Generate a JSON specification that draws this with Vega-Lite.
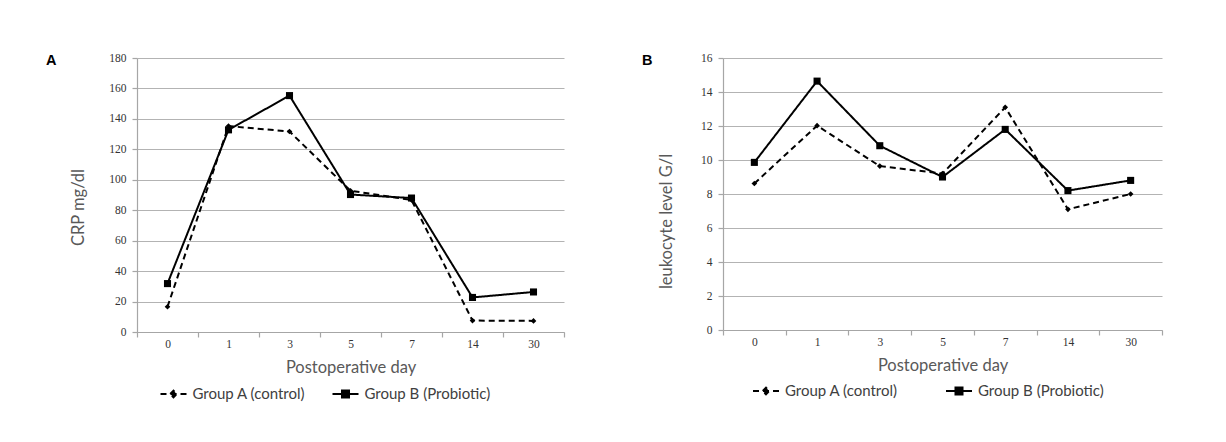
{
  "$schema": "https://vega.github.io/schema/vega-lite/v6.json",
  "background": "white",
  "padding": {"left": 46, "top": 52, "right": 5, "bottom": 5},
  "spacing": 159,
  "bounds": "flush",
  "config": {
    "view": {"stroke": null},
    "axis": {
      "labelFont": "Liberation Serif",
      "labelFontSize": 11.5,
      "labelColor": "#333333",
      "titleFont": "Lato",
      "titleFontSize": 16.5,
      "titleFontWeight": "normal",
      "titleColor": "#595959",
      "domainColor": "#a6a6a6",
      "domainWidth": 1.2,
      "tickColor": "#a6a6a6",
      "tickWidth": 1.2,
      "gridColor": "#b3b3b3",
      "gridWidth": 1.2
    },
    "axisX": {"grid": false, "tickSize": 5, "labelPadding": 1, "titlePadding": 10, "labelAngle": 0, "tickBand": "extent"},
    "axisY": {"tickSize": 5, "labelPadding": 6},
    "title": {"font": "Liberation Sans", "fontSize": 14.5, "fontWeight": "bold", "color": "black", "anchor": "start", "frame": "group", "baseline": "top"},
    "legend": {
      "orient": "none", "direction": "horizontal", "title": null,
      "symbolSize": 676, "symbolStrokeWidth": 2, "symbolStrokeColor": "black", "symbolFillColor": "black",
      "labelFont": "Lato", "labelFontSize": 15, "labelColor": "#404040", "labelOffset": 5, "padding": 0
    }
  },
  "resolve": {
    "scale": {"x": "independent", "y": "independent", "strokeDash": "independent"},
    "axis": {"x": "independent", "y": "independent"},
    "legend": {"strokeDash": "independent"}
  },
  "hconcat": [
    {
      "width": 427,
      "height": 274,
      "title": {"text": "A", "dx": -91, "offset": -16},
      "data": {"values": [
        {"group": "Group A (control)", "day": "0", "value": 16.6},
        {"group": "Group A (control)", "day": "1", "value": 135.3},
        {"group": "Group A (control)", "day": "3", "value": 131.7},
        {"group": "Group A (control)", "day": "5", "value": 92.8},
        {"group": "Group A (control)", "day": "7", "value": 86.7},
        {"group": "Group A (control)", "day": "14", "value": 7.5},
        {"group": "Group A (control)", "day": "30", "value": 7.3},
        {"group": "Group B (Probiotic)", "day": "0", "value": 31.8},
        {"group": "Group B (Probiotic)", "day": "1", "value": 132.8},
        {"group": "Group B (Probiotic)", "day": "3", "value": 155.3},
        {"group": "Group B (Probiotic)", "day": "5", "value": 90.3},
        {"group": "Group B (Probiotic)", "day": "7", "value": 88},
        {"group": "Group B (Probiotic)", "day": "14", "value": 22.7},
        {"group": "Group B (Probiotic)", "day": "30", "value": 26.3}
      ]},
      "encoding": {
        "x": {"field": "day", "type": "ordinal", "sort": ["0", "1", "3", "5", "7", "14", "30"],
              "scale": {"type": "band", "paddingInner": 0, "paddingOuter": 0}, "bandPosition": 0.5,
              "axis": {"title": "Postoperative day"}},
        "y": {"field": "value", "type": "quantitative", "scale": {"domain": [0, 180]},
              "axis": {"title": "CRP mg/dl", "values": [0, 20, 40, 60, 80, 100, 120, 140, 160, 180], "titlePadding": 22, "titleY": 149}}
      },
      "layer": [
        {
          "mark": {"type": "line", "color": "black", "strokeWidth": 2},
          "encoding": {
            "strokeDash": {"field": "group", "type": "nominal",
              "scale": {"domain": ["Group A (control)", "Group B (Probiotic)"], "range": [[6, 4], [1, 0]]},
              "legend": {"legendX": 22.5, "legendY": 322, "columnPadding": 22,
                "encode": {"symbols": {"update": {
                  "shape": {"signal": "datum.value === 'Group A (control)' ? 'M-1,0L1,0M-0.25,0L0,-0.25L0.25,0L0,0.25Z' : 'M-1,0L1,0M-0.27,-0.27L0.27,-0.27L0.27,0.27L-0.27,0.27Z'"},
                  "fill": {"value": "black"}, "stroke": {"value": "black"}, "strokeWidth": {"value": 2}, "strokeOpacity": {"value": 1}, "opacity": {"value": 1}}}}}
            }
          }
        },
        {
          "transform": [{"filter": "datum.group === 'Group A (control)'"}],
          "mark": {"type": "point", "filled": true, "color": "black", "opacity": 1, "shape": "diamond", "size": 32}
        },
        {
          "transform": [{"filter": "datum.group === 'Group B (Probiotic)'"}],
          "mark": {"type": "point", "filled": true, "color": "black", "opacity": 1, "shape": "square", "size": 50}
        }
      ]
    },
    {
      "width": 439,
      "height": 272,
      "title": {"text": "B", "dx": -81, "offset": -16},
      "data": {"values": [
        {"group": "Group A (control)", "day": "0", "value": 8.62},
        {"group": "Group A (control)", "day": "1", "value": 12.02},
        {"group": "Group A (control)", "day": "3", "value": 9.64},
        {"group": "Group A (control)", "day": "5", "value": 9.2},
        {"group": "Group A (control)", "day": "7", "value": 13.1},
        {"group": "Group A (control)", "day": "14", "value": 7.1},
        {"group": "Group A (control)", "day": "30", "value": 8.0},
        {"group": "Group B (Probiotic)", "day": "0", "value": 9.86},
        {"group": "Group B (Probiotic)", "day": "1", "value": 14.64},
        {"group": "Group B (Probiotic)", "day": "3", "value": 10.84},
        {"group": "Group B (Probiotic)", "day": "5", "value": 9.0},
        {"group": "Group B (Probiotic)", "day": "7", "value": 11.8},
        {"group": "Group B (Probiotic)", "day": "14", "value": 8.2},
        {"group": "Group B (Probiotic)", "day": "30", "value": 8.8}
      ]},
      "encoding": {
        "x": {"field": "day", "type": "ordinal", "sort": ["0", "1", "3", "5", "7", "14", "30"],
              "scale": {"type": "band", "paddingInner": 0, "paddingOuter": 0}, "bandPosition": 0.5,
              "axis": {"title": "Postoperative day"}},
        "y": {"field": "value", "type": "quantitative", "scale": {"domain": [0, 16]},
              "axis": {"title": "leukocyte level G/l", "values": [0, 2, 4, 6, 8, 10, 12, 14, 16], "titlePadding": 26, "titleY": 163}}
      },
      "layer": [
        {
          "mark": {"type": "line", "color": "black", "strokeWidth": 2},
          "encoding": {
            "strokeDash": {"field": "group", "type": "nominal",
              "scale": {"domain": ["Group A (control)", "Group B (Probiotic)"], "range": [[6, 4], [1, 0]]},
              "legend": {"legendX": 29, "legendY": 319, "columnPadding": 43,
                "encode": {"symbols": {"update": {
                  "shape": {"signal": "datum.value === 'Group A (control)' ? 'M-1,0L1,0M-0.25,0L0,-0.25L0.25,0L0,0.25Z' : 'M-1,0L1,0M-0.27,-0.27L0.27,-0.27L0.27,0.27L-0.27,0.27Z'"},
                  "fill": {"value": "black"}, "stroke": {"value": "black"}, "strokeWidth": {"value": 2}, "strokeOpacity": {"value": 1}, "opacity": {"value": 1}}}}}
            }
          }
        },
        {
          "transform": [{"filter": "datum.group === 'Group A (control)'"}],
          "mark": {"type": "point", "filled": true, "color": "black", "opacity": 1, "shape": "diamond", "size": 32}
        },
        {
          "transform": [{"filter": "datum.group === 'Group B (Probiotic)'"}],
          "mark": {"type": "point", "filled": true, "color": "black", "opacity": 1, "shape": "square", "size": 50}
        }
      ]
    }
  ]
}
